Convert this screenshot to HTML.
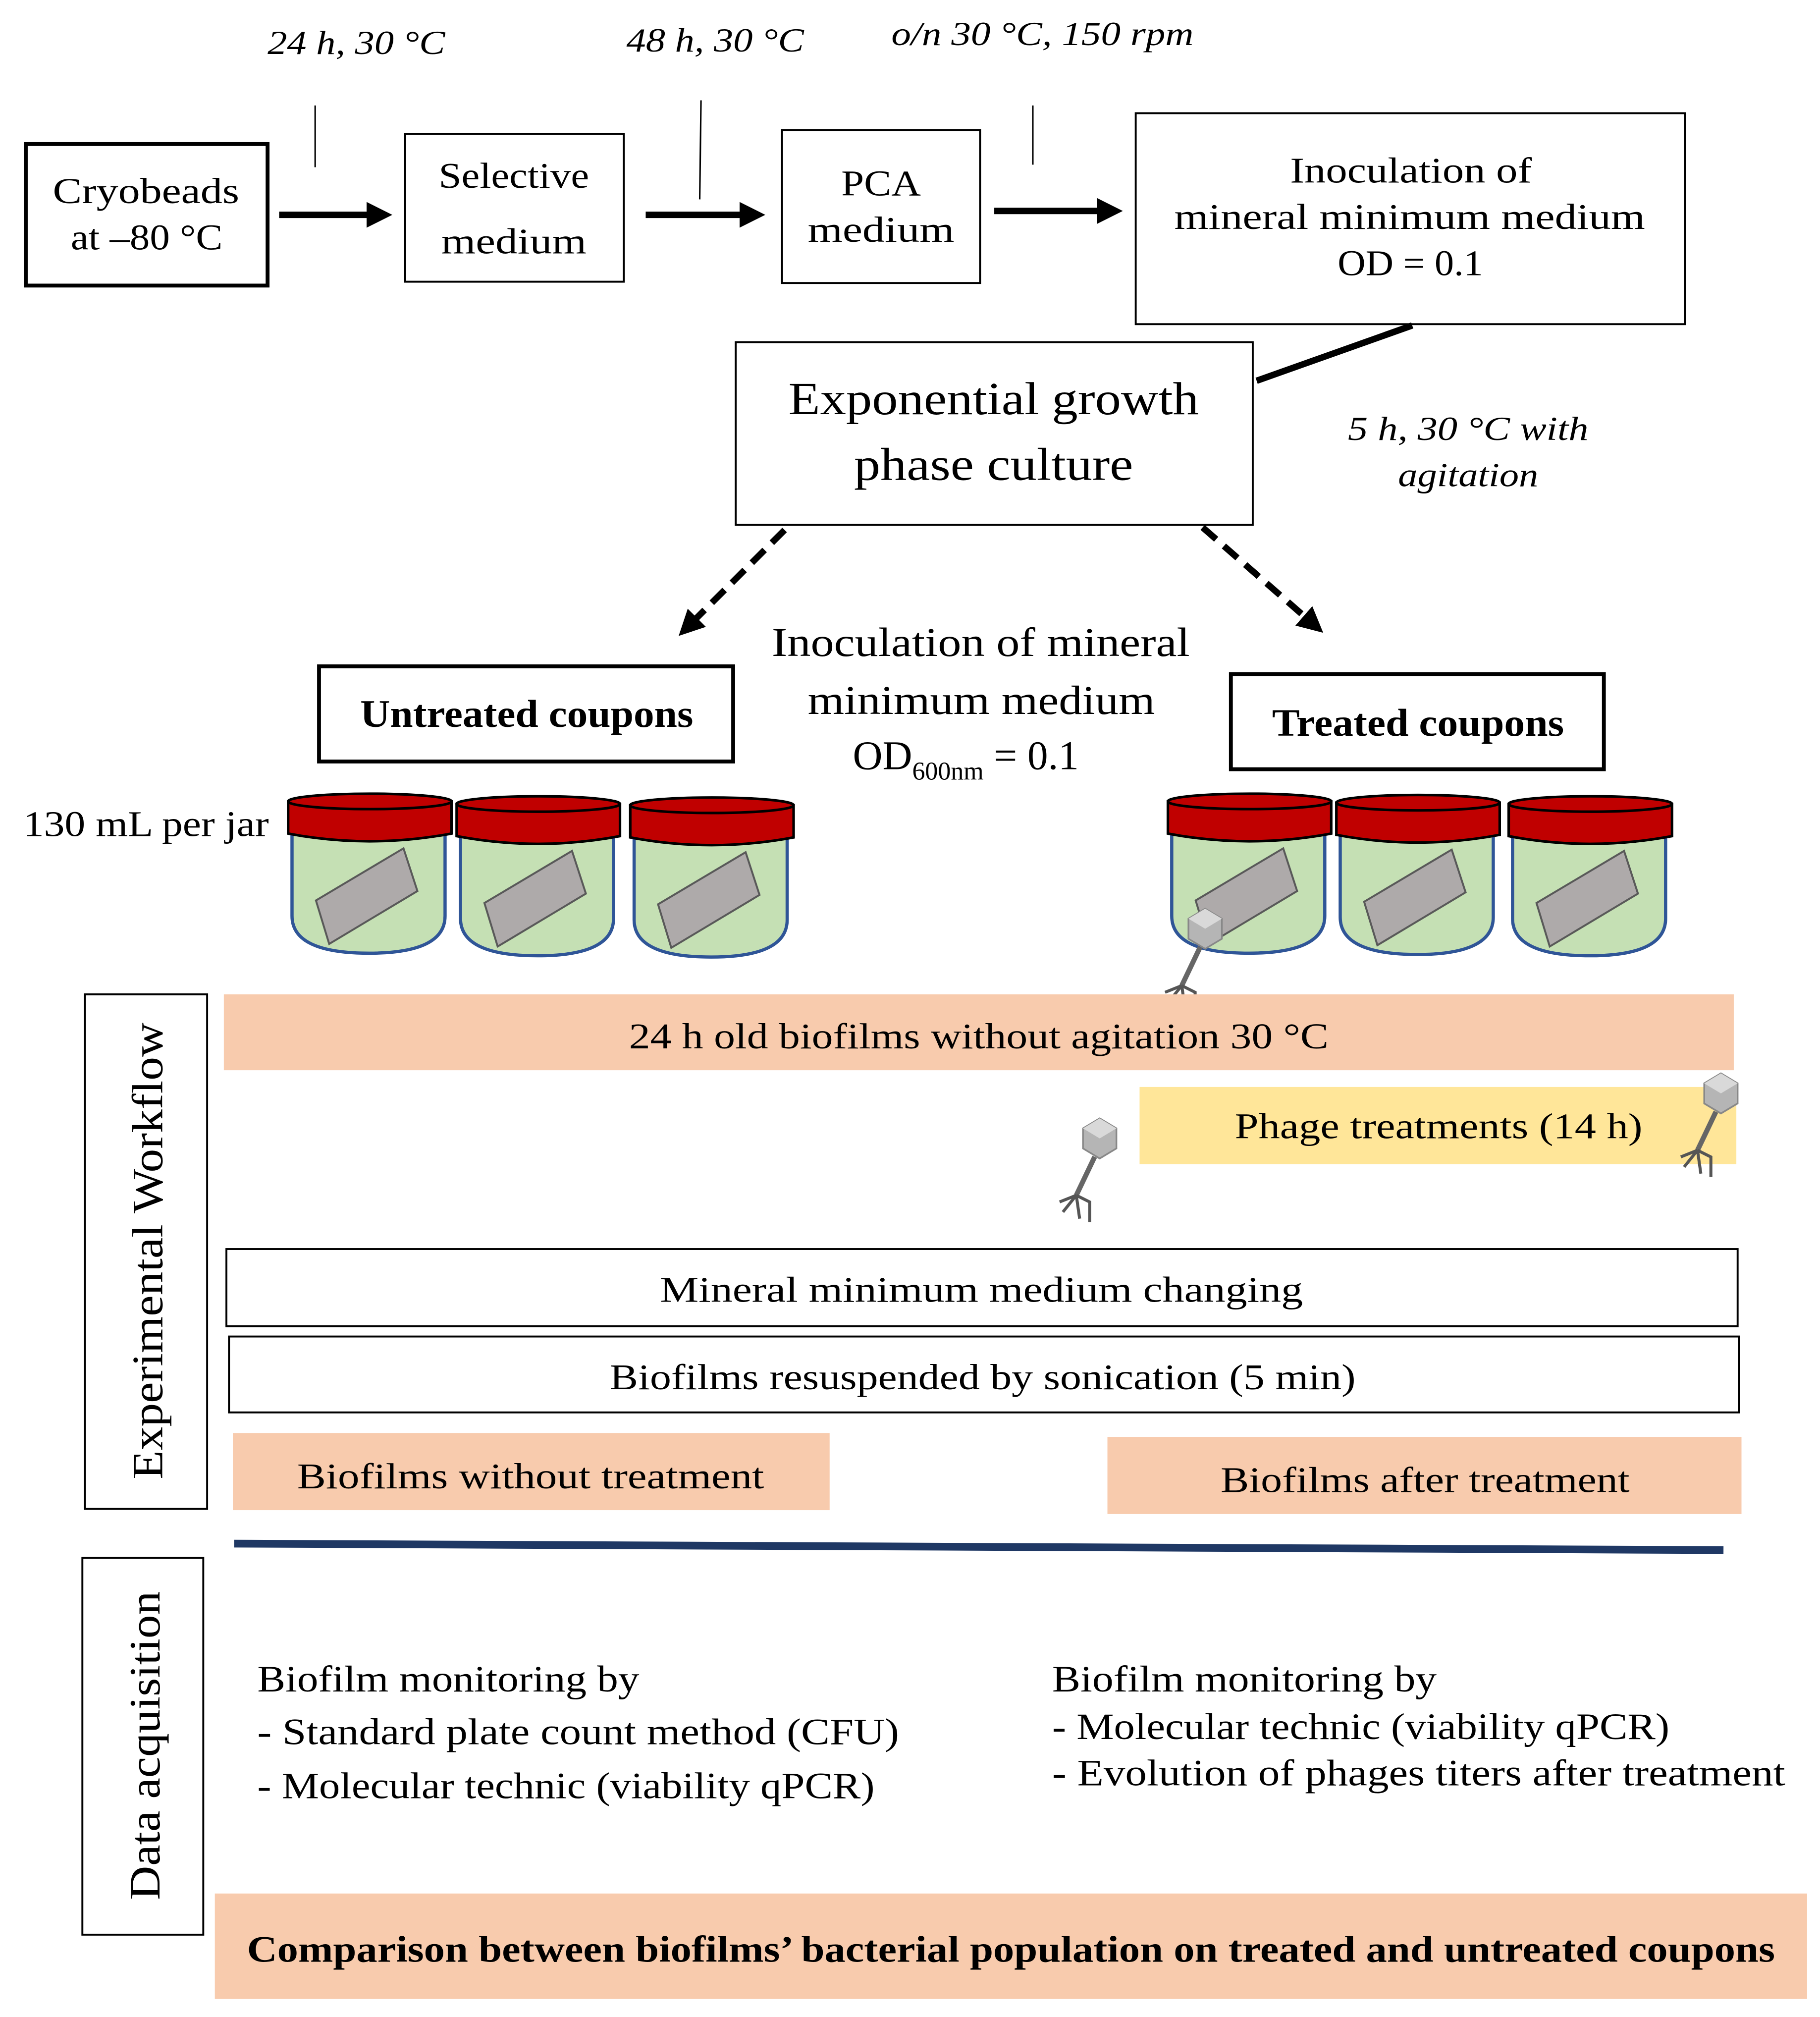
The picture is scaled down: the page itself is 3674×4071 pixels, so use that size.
<!DOCTYPE html>
<html><head><meta charset="utf-8"><style>
html,body{margin:0;padding:0;background:#fff;}
svg{display:block;}
text{font-family:"Liberation Serif",serif;fill:#000;}
</style></head><body>
<svg width="3674" height="4071" viewBox="0 0 1415 1568" xmlns="http://www.w3.org/2000/svg">
<defs>
<marker id="ah" markerWidth="4" markerHeight="4" refX="2.2" refY="2" orient="auto" markerUnits="strokeWidth"><path d="M0,0 L4,2 L0,4 z" fill="#000"/></marker>
<g id="jar">
 <path d="M3,648 L3,712 Q3,741 63,741 Q122,741 122,712 L122,648 Z" fill="#c5e0b4" stroke="#2f5597" stroke-width="2.5"/>
 <polygon points="21.6,700 89.7,659.5 100.5,692.7 31.9,733.8" fill="#aeaaaa" stroke="#595959" stroke-width="1.5"/>
 <path d="M0,623 L0,648 Q63,660 127,648 L127,623 Z" fill="#c00000" stroke="#000" stroke-width="2"/>
 <ellipse cx="63.5" cy="623" rx="63.5" ry="6" fill="#c00000" stroke="#000" stroke-width="2"/>
</g>
<g id="phage0">
 <polygon points="0,-12 10,-6 10,6 0,12 -10,6 -10,-6" fill="#b5b5b5" stroke="#888" stroke-width="1"/>
 <polygon points="0,-12 10,-6 0,0 -10,-6" fill="#d9d9d9"/>
 <line x1="-3" y1="11" x2="-14" y2="34" stroke="#666" stroke-width="3"/>
 <path d="M-14,34 L-24,38 M-14,34 L-22,44 M-14,34 L-12,48 M-14,34 L-6,38 L-6,50" stroke="#555" stroke-width="1.8" fill="none"/>
</g>
<g id="phage"><use href="#phage0" transform="scale(1.3)"/></g>
</defs>

<g font-style="italic" font-size="26">
<text x="208" y="42" textLength="138" lengthAdjust="spacingAndGlyphs">24 h, 30 °C</text>
<text x="487" y="40" textLength="138" lengthAdjust="spacingAndGlyphs">48 h, 30 °C</text>
<text x="693" y="35" textLength="235" lengthAdjust="spacingAndGlyphs">o/n 30 °C, 150 rpm</text>
<text x="1048" y="342" textLength="187" lengthAdjust="spacingAndGlyphs">5 h, 30 °C with</text>
<text x="1087" y="378" textLength="109" lengthAdjust="spacingAndGlyphs">agitation</text>
</g>

<rect x="20" y="112" width="188" height="110" fill="none" stroke="#000" stroke-width="3"/>
<text x="41" y="158" font-size="28" textLength="145" lengthAdjust="spacingAndGlyphs">Cryobeads</text>
<text x="55" y="194" font-size="28" textLength="118" lengthAdjust="spacingAndGlyphs">at –80 °C</text>
<line x1="245" y1="82" x2="245" y2="130" stroke="#000" stroke-width="1.2"/>
<line x1="217" y1="167" x2="296" y2="167" stroke="#000" stroke-width="5" marker-end="url(#ah)"/>

<rect x="315" y="104" width="170" height="115" fill="none" stroke="#000" stroke-width="1.5"/>
<text x="341" y="146" font-size="28" textLength="117" lengthAdjust="spacingAndGlyphs">Selective</text>
<text x="343" y="197" font-size="28" textLength="113" lengthAdjust="spacingAndGlyphs">medium</text>
<line x1="545" y1="78" x2="544" y2="155" stroke="#000" stroke-width="1.2"/>
<line x1="502" y1="167" x2="586" y2="167" stroke="#000" stroke-width="5" marker-end="url(#ah)"/>

<rect x="608" y="101" width="154" height="119" fill="none" stroke="#000" stroke-width="1.5"/>
<text x="654" y="152" font-size="28" textLength="62" lengthAdjust="spacingAndGlyphs">PCA</text>
<text x="628" y="188" font-size="28" textLength="114" lengthAdjust="spacingAndGlyphs">medium</text>
<line x1="803" y1="82" x2="803" y2="128" stroke="#000" stroke-width="1.2"/>
<line x1="773" y1="164" x2="864" y2="164" stroke="#000" stroke-width="5" marker-end="url(#ah)"/>

<rect x="883" y="88" width="427" height="164" fill="none" stroke="#000" stroke-width="1.5"/>
<text x="1003" y="142" font-size="28" textLength="188" lengthAdjust="spacingAndGlyphs">Inoculation of</text>
<text x="913" y="178" font-size="28" textLength="366" lengthAdjust="spacingAndGlyphs">mineral minimum medium</text>
<text x="1040" y="214" font-size="28" textLength="113" lengthAdjust="spacingAndGlyphs">OD = 0.1</text>
<line x1="1098" y1="253" x2="977" y2="296" stroke="#000" stroke-width="5"/>

<rect x="572" y="266" width="402" height="142" fill="none" stroke="#000" stroke-width="1.5"/>
<text x="613" y="322" font-size="36" textLength="319" lengthAdjust="spacingAndGlyphs">Exponential growth</text>
<text x="664" y="373" font-size="36" textLength="217" lengthAdjust="spacingAndGlyphs">phase culture</text>

<line x1="610" y1="412" x2="534" y2="488" stroke="#000" stroke-width="5" stroke-dasharray="14,8" marker-end="url(#ah)"/>
<line x1="935" y1="410" x2="1022" y2="486" stroke="#000" stroke-width="5" stroke-dasharray="14,8" marker-end="url(#ah)"/>

<text x="600" y="510" font-size="32" textLength="325" lengthAdjust="spacingAndGlyphs">Inoculation of mineral</text>
<text x="628" y="555" font-size="32" textLength="270" lengthAdjust="spacingAndGlyphs">minimum medium</text>
<text x="663" y="598" font-size="32">OD<tspan font-size="20" dy="8">600nm</tspan><tspan dy="-8"> = 0.1</tspan></text>

<rect x="248" y="518" width="322" height="74" fill="none" stroke="#000" stroke-width="3"/>
<text x="280" y="565" font-size="30" font-weight="bold" textLength="259" lengthAdjust="spacingAndGlyphs">Untreated coupons</text>
<rect x="957" y="524" width="290" height="74" fill="none" stroke="#000" stroke-width="3"/>
<text x="989" y="572" font-size="30" font-weight="bold" textLength="227" lengthAdjust="spacingAndGlyphs">Treated coupons</text>

<text x="18" y="650" font-size="28" textLength="191" lengthAdjust="spacingAndGlyphs">130 mL per jar</text>

<use href="#jar" x="224" y="0"/>
<use href="#jar" x="355" y="2"/>
<use href="#jar" x="490" y="3"/>
<use href="#jar" x="908" y="0"/>
<use href="#jar" x="1039" y="1"/>
<use href="#jar" x="1173" y="2"/>
<use href="#phage" x="937" y="722"/>

<rect x="66" y="773" width="95" height="400" fill="none" stroke="#000" stroke-width="1.5"/>
<text transform="translate(126,1150) rotate(-90)" font-size="34" textLength="355" lengthAdjust="spacingAndGlyphs">Experimental Workflow</text>

<rect x="174" y="773" width="1174" height="59" fill="#f8cbad"/>
<text x="489" y="815" font-size="28" textLength="544" lengthAdjust="spacingAndGlyphs">24 h old biofilms without agitation 30 °C</text>
<rect x="886" y="845" width="464" height="60" fill="#ffe699"/>
<text x="960" y="885" font-size="28" textLength="317" lengthAdjust="spacingAndGlyphs">Phage treatments (14 h)</text>
<use href="#phage" x="855" y="885"/>
<use href="#phage" x="1338" y="850"/>

<rect x="176" y="971" width="1175" height="60" fill="none" stroke="#000" stroke-width="1.5"/>
<text x="513" y="1012" font-size="28" textLength="500" lengthAdjust="spacingAndGlyphs">Mineral minimum medium changing</text>
<rect x="178" y="1039" width="1174" height="59" fill="none" stroke="#000" stroke-width="1.5"/>
<text x="474" y="1080" font-size="28" textLength="580" lengthAdjust="spacingAndGlyphs">Biofilms resuspended by sonication (5 min)</text>

<rect x="181" y="1114" width="464" height="60" fill="#f8cbad"/>
<text x="231" y="1157" font-size="28" textLength="363" lengthAdjust="spacingAndGlyphs">Biofilms without treatment</text>
<rect x="861" y="1117" width="493" height="60" fill="#f8cbad"/>
<text x="949" y="1160" font-size="28" textLength="318" lengthAdjust="spacingAndGlyphs">Biofilms after treatment</text>

<line x1="182" y1="1200" x2="1340" y2="1205" stroke="#1f3864" stroke-width="6"/>

<rect x="64" y="1211" width="94" height="293" fill="none" stroke="#000" stroke-width="1.5"/>
<text transform="translate(124,1477) rotate(-90)" font-size="34" textLength="240" lengthAdjust="spacingAndGlyphs">Data acquisition</text>

<g font-size="29">
<text x="200" y="1315" textLength="297" lengthAdjust="spacingAndGlyphs">Biofilm monitoring by</text>
<text x="200" y="1356" textLength="499" lengthAdjust="spacingAndGlyphs">- Standard plate count method (CFU)</text>
<text x="200" y="1398" textLength="480" lengthAdjust="spacingAndGlyphs">- Molecular technic (viability qPCR)</text>
<text x="818" y="1315" textLength="299" lengthAdjust="spacingAndGlyphs">Biofilm monitoring by</text>
<text x="818" y="1352" textLength="480" lengthAdjust="spacingAndGlyphs">- Molecular technic (viability qPCR)</text>
<text x="818" y="1388" textLength="570" lengthAdjust="spacingAndGlyphs">- Evolution of phages titers after treatment</text>
</g>

<rect x="167" y="1472" width="1238" height="82" fill="#f8cbad"/>
<text x="192" y="1525" font-size="29" font-weight="bold" textLength="1188" lengthAdjust="spacingAndGlyphs">Comparison between biofilms’ bacterial population on treated and untreated coupons</text>
</svg>
</body></html>
